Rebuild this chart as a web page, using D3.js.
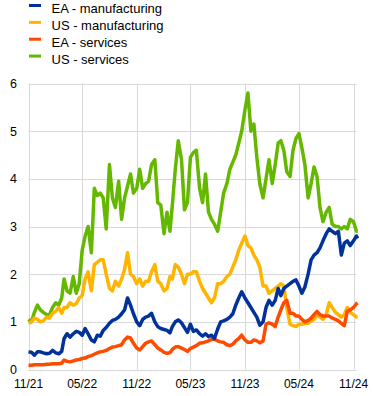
<!DOCTYPE html>
<html>
  <head>
    <title>EA and US expected inflation</title>
    <script src="https://d3js.org/d3.v7.min.js"></script>
    <style>
      body { margin: 0; background: #fff; }
      text { font-family: Arial, "Liberation Sans", sans-serif; fill: #000; }
    </style>
  </head>
  <body>
    <div id="chart"></div>

    <script>
      // sampling dates (1st, 11th, 21st of each month)
      const dates = [
        "2021-11-01","2021-11-11","2021-11-21","2021-12-01","2021-12-11","2021-12-21",
        "2022-01-01","2022-01-11","2022-01-21","2022-02-01","2022-02-11","2022-02-21",
        "2022-03-01","2022-03-11","2022-03-21","2022-04-01","2022-04-11","2022-04-21",
        "2022-05-01","2022-05-11","2022-05-21","2022-06-01","2022-06-11","2022-06-21",
        "2022-07-01","2022-07-11","2022-07-21","2022-08-01","2022-08-11","2022-08-21",
        "2022-09-01","2022-09-11","2022-09-21","2022-10-01","2022-10-11","2022-10-21",
        "2022-11-01","2022-11-11","2022-11-21","2022-12-01","2022-12-11","2022-12-21",
        "2023-01-01","2023-01-11","2023-01-21","2023-02-01","2023-02-11","2023-02-21",
        "2023-03-01","2023-03-11","2023-03-21","2023-04-01","2023-04-11","2023-04-21",
        "2023-05-01","2023-05-11","2023-05-21","2023-06-01","2023-06-11","2023-06-21",
        "2023-07-01","2023-07-11","2023-07-21","2023-08-01","2023-08-11","2023-08-21",
        "2023-09-01","2023-09-11","2023-09-21","2023-10-01","2023-10-11","2023-10-21",
        "2023-11-01","2023-11-11","2023-11-21","2023-12-01","2023-12-11","2023-12-21",
        "2024-01-01","2024-01-11","2024-01-21","2024-02-01","2024-02-11","2024-02-21",
        "2024-03-01","2024-03-11","2024-03-21","2024-04-01","2024-04-11","2024-04-21",
        "2024-05-01","2024-05-11","2024-05-21","2024-06-01","2024-06-11","2024-06-21",
        "2024-07-01","2024-07-11","2024-07-21","2024-08-01","2024-08-11","2024-08-21",
        "2024-09-01","2024-09-11","2024-09-21","2024-10-01","2024-10-11","2024-10-21",
        "2024-11-01","2024-11-11","2024-11-15"
      ];

      const eaManufacturing = [
        0.37,0.36,0.30, 0.37,0.37,0.35, 0.33,0.34,0.40, 0.35,0.33,0.38,
        0.65,0.75,0.68, 0.75,0.80,0.78, 0.72,0.86,0.75, 0.62,0.58,0.72,
        0.70,0.82,0.88, 0.97,1.03,1.05, 1.10,1.17,1.25, 1.50,1.35,1.17,
        1.00,0.92,1.05, 1.10,1.12,1.18, 1.00,0.90,0.86, 0.84,0.82,0.77,
        0.90,1.00,1.04, 0.98,0.88,0.78, 0.95,0.80,0.83, 0.75,0.70,0.75,
        0.69,0.72,0.65, 0.85,1.00,1.02, 1.05,1.10,1.17, 1.35,1.50,1.63,
        1.50,1.40,1.30, 1.20,1.10,0.93, 1.00,1.30,1.45, 1.35,1.45,1.70,
        1.55,1.70,1.75, 1.80,1.85,1.88, 1.75,1.60,1.73, 2.00,2.30,2.40,
        2.45,2.55,2.70, 2.85,2.95,2.90, 2.85,2.90,2.40, 2.65,2.70,2.60,
        2.70,2.80,2.75
      ];

      const usManufacturing = [
        0.97,1.00,1.08, 1.05,1.00,1.02, 1.10,1.08,1.18, 1.22,1.30,1.18,
        1.30,1.30,1.40, 1.35,1.38,1.50, 1.55,1.90,2.05, 1.65,2.20,2.25,
        2.30,2.30,2.00, 1.70,1.65,1.85, 1.75,1.90,2.10, 2.45,2.00,1.95,
        1.80,1.90,1.75, 1.85,1.85,2.05, 2.20,1.85,1.80, 1.65,1.70,1.95,
        1.90,2.20,2.15, 2.00,1.80,2.00, 2.00,2.05,2.05, 1.85,1.70,1.60,
        1.50,1.40,1.50, 1.80,1.80,1.85, 1.95,2.00,2.15, 2.30,2.50,2.65,
        2.80,2.60,2.55, 2.40,2.30,2.15, 1.75,1.75,1.60, 1.65,1.70,1.75,
        1.80,1.75,1.30, 0.95,0.92,0.90, 0.95,0.95,0.97, 0.97,1.02,1.05,
        1.15,1.10,1.05, 1.15,1.40,1.30, 1.20,1.15,1.10, 1.15,1.30,1.20,
        1.15,1.10,1.10
      ];

      const eaServices = [
        0.09,0.09,0.10, 0.10,0.10,0.10, 0.11,0.11,0.12, 0.12,0.12,0.13,
        0.20,0.17,0.16, 0.18,0.20,0.21, 0.23,0.24,0.27, 0.29,0.32,0.35,
        0.37,0.38,0.40, 0.44,0.47,0.48, 0.50,0.52,0.62, 0.68,0.66,0.55,
        0.45,0.41,0.48, 0.55,0.58,0.60, 0.52,0.45,0.41, 0.36,0.34,0.35,
        0.42,0.47,0.48, 0.45,0.42,0.38, 0.44,0.47,0.50, 0.55,0.56,0.58,
        0.60,0.63,0.64, 0.60,0.58,0.57, 0.52,0.50,0.53, 0.60,0.65,0.72,
        0.62,0.57,0.57, 0.62,0.60,0.56, 0.60,0.95,0.98, 0.95,0.90,1.10,
        1.25,1.40,1.45, 1.18,1.18,1.12, 1.12,1.05,1.00, 1.03,1.08,1.15,
        1.22,1.15,1.12, 1.12,1.12,1.08, 1.05,1.02,0.97, 0.92,1.22,1.25,
        1.30,1.38,1.40
      ];

      const usServices = [
        1.05,1.00,1.20, 1.35,1.25,1.20, 1.15,1.15,1.30, 1.40,1.35,1.50,
        1.90,1.65,1.60, 1.95,1.60,1.80, 2.50,2.80,3.00, 2.45,3.80,3.65,
        3.70,3.60,2.95, 4.30,3.60,3.40, 3.95,3.15,3.60, 3.85,4.10,3.70,
        3.80,4.20,3.80, 3.90,3.95,4.30, 4.40,3.50,3.45, 2.85,3.30,2.90,
        3.45,4.20,4.80, 4.40,3.35,3.50, 4.45,4.55,4.60, 3.80,3.50,4.10,
        3.30,3.15,3.05, 2.90,3.30,3.70, 3.90,4.20,4.35, 4.50,4.75,5.00,
        5.45,5.80,5.00, 5.15,4.45,3.90, 3.60,4.00,4.40, 3.90,4.30,4.75,
        4.80,4.60,4.15, 4.05,4.60,4.85, 4.95,4.65,4.30, 3.60,3.90,4.25,
        4.05,3.40,3.10, 3.30,3.40,3.05, 3.00,3.00,2.95, 3.00,2.95,3.15,
        3.10,2.90,2.90
      ];

      const seriesNames = ["EA - manufacturing", "US - manufacturing", "EA - services", "US - services"];
      const seriesColors = ["#003299", "#ffb400", "#ff4b00", "#65b800"];
      const seriesValues = [eaManufacturing, usManufacturing, eaServices, usServices];

      const yTicks = [0, 1, 2, 3, 4, 5, 6];
      const xTicks = ["2021-11-01","2022-05-01","2022-11-01","2023-05-01","2023-11-01","2024-05-01","2024-11-01"];

      const parse = d3.timeParse("%Y-%m-%d");
      const width = 373, height = 396;

      const svg = d3.select("#chart").append("svg")
        .attr("width", width)
        .attr("height", height);

      const x = d3.scaleTime()
        .domain([parse("2021-11-01"), parse("2024-11-01")])
        .range([28.5, 353.5]);

      const y = d3.scaleLinear()
        .domain([0, 6])
        .range([369.5, 83.5]);

      const plotRight = 356.5;

      // grid
      const grid = svg.append("g");
      grid.selectAll("line.h")
        .data(yTicks)
        .enter().append("line")
        .attr("class", "h")
        .attr("x1", 28.5).attr("x2", plotRight)
        .attr("y1", d => Math.round(y(d)) + 0.5).attr("y2", d => Math.round(y(d)) + 0.5)
        .attr("stroke", "#d9d9d9");

      grid.selectAll("line.v")
        .data(xTicks)
        .enter().append("line")
        .attr("class", "v")
        .attr("x1", d => Math.round(x(parse(d))) + 0.5).attr("x2", d => Math.round(x(parse(d))) + 0.5)
        .attr("y1", y(6)).attr("y2", y(0))
        .attr("stroke", "#d9d9d9");

      // axis labels
      svg.append("g").selectAll("text")
        .data(yTicks)
        .enter().append("text")
        .attr("x", 17)
        .attr("y", d => y(d))
        .attr("dy", "0.35em")
        .attr("text-anchor", "end")
        .style("font-size", "12.5px")
        .text(d => d);

      const fmt = d3.timeFormat("%m/%y");
      svg.append("g").selectAll("text")
        .data(xTicks)
        .enter().append("text")
        .attr("x", d => x(parse(d)))
        .attr("y", 388)
        .attr("text-anchor", "middle")
        .style("font-size", "12px")
        .text(d => fmt(parse(d)));

      // lines, US services drawn first so EA manufacturing sits on top
      const line = d3.line()
        .x((d, i) => x(parse(dates[i])))
        .y(d => y(d));

      const order = [3, 1, 2, 0];
      svg.append("g").selectAll("path")
        .data(order)
        .enter().append("path")
        .attr("d", k => line(seriesValues[k]))
        .attr("fill", "none")
        .attr("stroke", k => seriesColors[k])
        .attr("stroke-width", 3.5)
        .attr("stroke-linejoin", "round");

      // legend
      const legend = svg.append("g").selectAll("g")
        .data(seriesNames)
        .enter().append("g")
        .attr("transform", (d, i) => `translate(29, ${13.3 + i * 16.85})`);

      legend.append("rect")
        .attr("x", 0).attr("y", -9.3)
        .attr("width", 12).attr("height", 3)
        .attr("fill", (d, i) => seriesColors[i]);

      legend.append("text")
        .attr("x", 22.5)
        .attr("y", 0)
        .style("font-size", "13px")
        .text(d => d);
    </script>
  </body>
</html>
